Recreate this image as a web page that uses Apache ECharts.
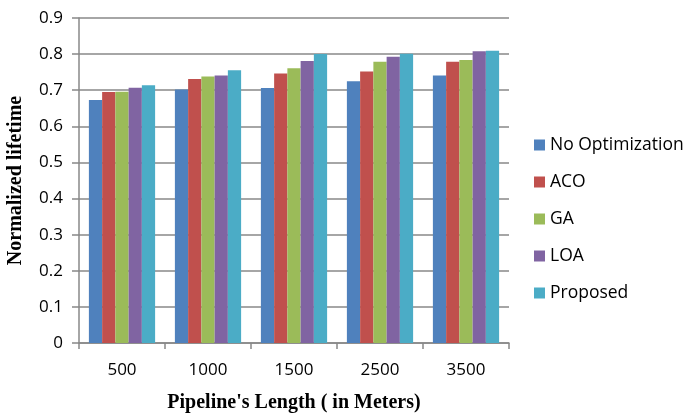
<!DOCTYPE html>
<html>
<head>
<meta charset="utf-8">
<script src="https://cdn.jsdelivr.net/npm/echarts@6/dist/echarts.min.js"></script>
<style>
    html, body { margin: 0; padding: 0; background: #fff; }
    #main { width: 689px; height: 415px; }
</style>
</head>
<body>
<div id="main"></div>
<script>
var categories = ['500', '1000', '1500', '2500', '3500'];
var seriesNames = ['No Optimization', 'ACO', 'GA', 'LOA', 'Proposed'];
var noOpt = [0.673, 0.702, 0.706, 0.725, 0.741];
var aco = [0.695, 0.731, 0.746, 0.752, 0.779];
var ga = [0.696, 0.738, 0.761, 0.779, 0.784];
var loa = [0.707, 0.741, 0.781, 0.793, 0.808];
var proposed = [0.714, 0.755, 0.800, 0.801, 0.809];
var colors = ['#4F81BD', '#C0504D', '#9BBB59', '#8064A2', '#4BACC6'];

var allData = [noOpt, aco, ga, loa, proposed];

var myChart = echarts.init(document.getElementById('main'));

var series = [];
for (var i = 0; i < seriesNames.length; i++) {
    series.push({
        name: seriesNames[i],
        type: 'bar',
        data: allData[i],
        barGap: '0%',
        barCategoryGap: '23%',
        itemStyle: { color: colors[i] }
    });
}

var option = {
    animation: false,
    color: colors,
    grid: {
        left: 79,
        top: 18,
        width: 430,
        height: 325,
        containLabel: false,
        outerBoundsMode: 'none'
    },
    legend: {
        orient: 'vertical',
        left: 529,
        top: 131,
        itemWidth: 11,
        itemHeight: 11,
        itemGap: 19,
        icon: 'rect',
        textStyle: {
            fontFamily: 'Open Sans',
            fontSize: 17.5,
            color: '#000'
        },
        data: seriesNames
    },
    xAxis: {
        type: 'category',
        data: categories,
        name: "Pipeline's Length ( in Meters)",
        nameLocation: 'middle',
        nameGap: 50,
        nameTextStyle: {
            fontFamily: 'Liberation Serif',
            fontWeight: 'bold',
            fontSize: 20,
            color: '#000'
        },
        axisLine: { lineStyle: { color: '#888', width: 1.5 } },
        axisTick: { show: true, length: 6, lineStyle: { color: '#888', width: 1.5 } },
        axisLabel: {
            margin: 19,
            fontFamily: 'Open Sans',
            fontSize: 17,
            color: '#000'
        }
    },
    yAxis: {
        type: 'value',
        min: 0,
        max: 0.9,
        interval: 0.1,
        name: 'Normalized lifetime',
        nameLocation: 'middle',
        nameGap: 53,
        nameTextStyle: {
            fontFamily: 'Liberation Serif',
            fontWeight: 'bold',
            fontSize: 20,
            color: '#000'
        },
        axisLine: { show: true, lineStyle: { color: '#888', width: 1.5 } },
        axisTick: { show: true, length: 7, lineStyle: { color: '#888', width: 1.5 } },
        splitLine: { show: true, lineStyle: { color: '#888', width: 1.5 } },
        axisLabel: {
            margin: 16,
            fontFamily: 'Open Sans',
            fontSize: 17,
            color: '#000',
            formatter: function (value) {
                return value === 0 ? '0' : value.toFixed(1);
            }
        }
    },
    series: series
};

myChart.setOption(option);
</script>
</body>
</html>
